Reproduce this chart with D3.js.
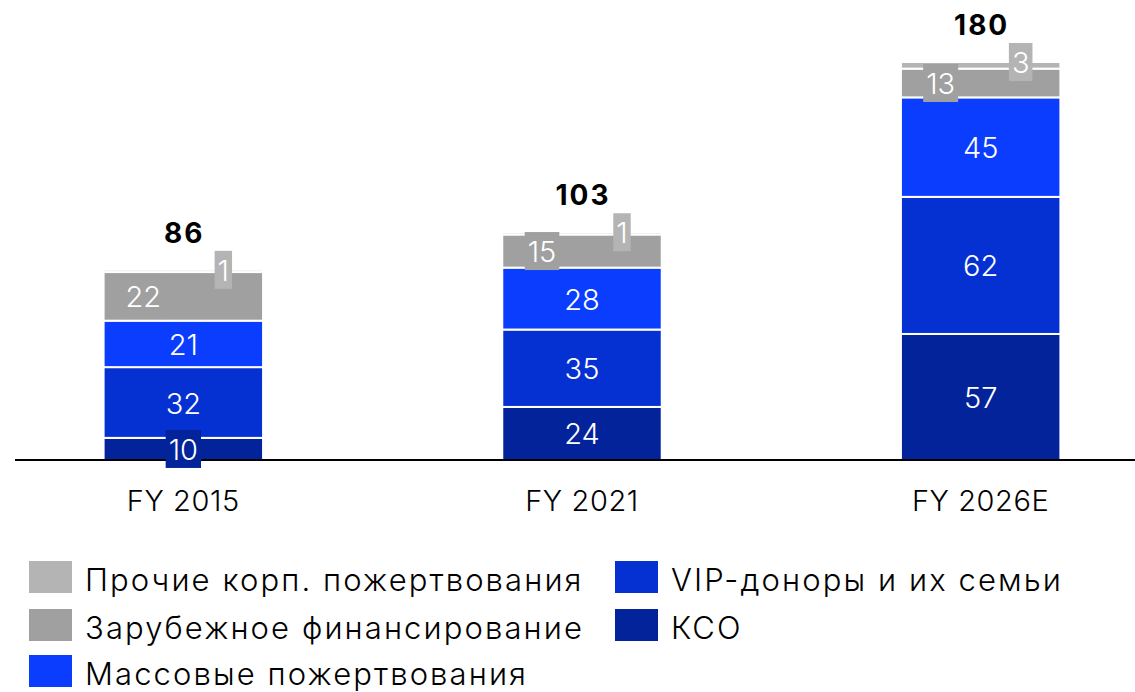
<!DOCTYPE html>
<html>
<head>
<meta charset="utf-8">
<script src="https://cdn.jsdelivr.net/npm/d3@7"></script>
<style>
  body { margin: 0; background: #fff; }
  svg text { font-family: "Inter", "Noto Sans", sans-serif; }
</style>
</head>
<body>
<svg id="chart" width="1135" height="692"></svg>
<script>
// данные
const categories = ['FY 2015', 'FY 2021', 'FY 2026E'];
const seriesNames = ['КСО', 'VIP-доноры и их семьи', 'Массовые пожертвования', 'Зарубежное финансирование', 'Прочие корп. пожертвования'];
const kso = [10, 24, 57];
const vip = [32, 35, 62];
const mass = [21, 28, 45];
const foreign = [22, 15, 13];
const other = [1, 1, 3];
const totals = [86, 103, 180];

const colors = ['#03239b', '#0531d3', '#0b3dff', '#a0a0a0', '#b4b4b4'];
// смещение подписей по x для серий
const labelShift = [0, 0, 0, -40, 40];

const svg = d3.select('#chart');
const baseY = 460;

const x = d3.scaleBand()
    .domain(categories)
    .range([-16, 1180])
    .paddingInner(0.6)
    .paddingOuter(0.3);

const y = d3.scaleLinear()
    .domain([0, 180])
    .range([baseY, 62]);

const rows = categories.map((c, i) => ({
    cat: c,
    'КСО': kso[i],
    'VIP-доноры и их семьи': vip[i],
    'Массовые пожертвования': mass[i],
    'Зарубежное финансирование': foreign[i],
    'Прочие корп. пожертвования': other[i]
}));

const stack = d3.stack().keys(seriesNames)(rows);

// сегменты
svg.append('g').selectAll('g')
    .data(stack)
    .enter()
    .append('g')
    .attr('fill', (d, i) => colors[i])
    .selectAll('rect')
    .data(d => d)
    .enter()
    .append('rect')
    .attr('x', d => x(d.data.cat))
    .attr('width', x.bandwidth())
    .attr('y', d => y(d[1]))
    .attr('height', d => y(d[0]) - y(d[1]))
    .attr('stroke', '#fff')
    .attr('stroke-width', 2);

// ось
svg.append('line')
    .attr('x1', 15).attr('x2', 1135)
    .attr('y1', baseY).attr('y2', baseY)
    .attr('stroke', '#000').attr('stroke-width', 2);

// подписи значений
const labels = svg.append('g');
stack.forEach((s, si) => {
    s.forEach(d => {
        const cx = x(d.data.cat) + x.bandwidth() / 2 + labelShift[si];
        const cy = si === 4 ? y(d[1]) : (y(d[0]) + y(d[1])) / 2;
        const g = labels.append('g');
        const t = g.append('text')
            .attr('x', cx)
            .attr('y', cy + 11)
            .attr('text-anchor', 'middle')
            .attr('fill', '#fff')
            .attr('font-size', 29)
            .attr('font-weight', 300)
            .text(d[1] - d[0]);
        const bb = t.node().getBBox();
        g.insert('rect', 'text')
            .attr('x', bb.x - 3)
            .attr('width', bb.width + 6)
            .attr('y', cy - 19)
            .attr('height', 38)
            .attr('fill', colors[si]);
    });
});

// итоги
svg.append('g').selectAll('text')
    .data(categories)
    .enter()
    .append('text')
    .attr('x', d => x(d) + x.bandwidth() / 2 + 1)
    .attr('y', (d, i) => y(totals[i]) - 27)
    .attr('text-anchor', 'middle')
    .attr('font-size', 28)
    .attr('font-weight', 700)
    .attr('letter-spacing', 2)
    .attr('fill', '#000')
    .text((d, i) => totals[i]);

// подписи категорий
svg.append('g').selectAll('text')
    .data(categories)
    .enter()
    .append('text')
    .attr('x', d => x(d) + x.bandwidth() / 2)
    .attr('y', 511)
    .attr('text-anchor', 'middle')
    .attr('font-size', 29)
    .attr('font-weight', 300)
    .attr('letter-spacing', 0.6)
    .attr('fill', '#000')
    .text(d => d);

// легенда
const legendOrder = [4, 3, 2, 1, 0];
const legendPos = [[29, 577], [29, 625], [29, 671], [615, 577], [615, 625]];
const legend = svg.append('g');
legendOrder.forEach((si, k) => {
    const p = legendPos[k];
    legend.append('rect')
        .attr('x', p[0]).attr('y', p[1] - 16)
        .attr('width', 43).attr('height', 32)
        .attr('fill', colors[si]);
    legend.append('text')
        .attr('x', p[0] + 56).attr('y', p[1] + 14)
        .attr('font-size', 31)
        .attr('font-weight', 300)
        .attr('letter-spacing', 2.1)
        .attr('fill', '#000')
        .text(seriesNames[si]);
});
</script>
</body>
</html>
